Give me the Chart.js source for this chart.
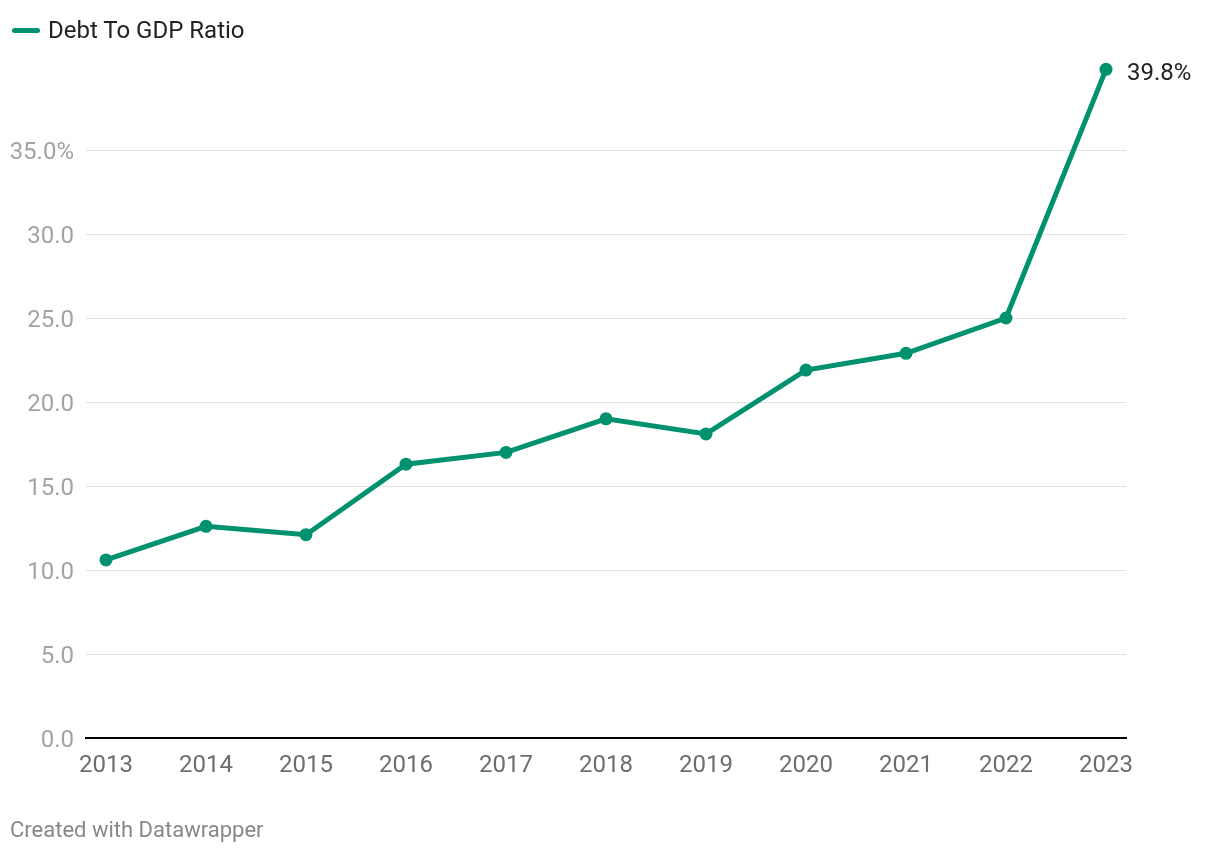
<!DOCTYPE html>
<html>
<head>
<meta charset="utf-8">
<script src="https://cdn.jsdelivr.net/npm/chart.js@4/dist/chart.umd.min.js"></script>
<style>
  html, body { margin: 0; padding: 0; background: #fff; }
  body { width: 1220px; height: 854px; position: relative; overflow: hidden; font-family: Roboto, "Noto Sans", sans-serif; }
  #wrap { position: absolute; left: 0; top: 0; width: 1220px; height: 854px; }
  #legend { position: absolute; left: 12px; top: 16px; display: flex; align-items: center; font-size: 24px; line-height: 28px; color: #222; }
  #legend .sw { width: 28px; height: 5px; border-radius: 3px; background: #00916e; margin-right: 8px; }
  #footer { position: absolute; left: 10px; top: 817px; font-size: 22px; line-height: 26px; color: #888; }
</style>
</head>
<body>
<div id="wrap"><canvas id="c" width="1220" height="854"></canvas></div>
<div id="legend"><span class="sw"></span><span>Debt To GDP Ratio</span></div>
<div id="footer">Created with Datawrapper</div>
<script>
const years = [2013, 2014, 2015, 2016, 2017, 2018, 2019, 2020, 2021, 2022, 2023];
const debtToGdp = [10.6, 12.6, 12.1, 16.3, 17.0, 19.0, 18.1, 21.9, 22.9, 25.0, 39.8];
const yTicks = [0, 5, 10, 15, 20, 25, 30, 35];
const seriesName = "Debt To GDP Ratio";
const GREEN = "#00916e";

const lastLabel = {
  id: "lastLabel",
  afterDatasetsDraw(chart) {
    const meta = chart.getDatasetMeta(0);
    const pt = meta.data[meta.data.length - 1];
    const v = debtToGdp[debtToGdp.length - 1];
    const ctx = chart.ctx;
    ctx.save();
    ctx.font = "24px Roboto";
    ctx.fillStyle = "#222";
    ctx.textAlign = "left";
    ctx.textBaseline = "middle";
    ctx.fillText(v.toFixed(1) + "%", pt.x + 21, pt.y + 5);
    ctx.restore();
  }
};

new Chart(document.getElementById("c"), {
  type: "line",
  data: {
    datasets: [{
      label: seriesName,
      data: years.map((y, i) => ({ x: y, y: debtToGdp[i] })),
      borderColor: GREEN,
      backgroundColor: GREEN,
      borderWidth: 5,
      pointRadius: 6.5,
      pointHoverRadius: 6.5,
      pointBackgroundColor: GREEN,
      pointBorderWidth: 0,
      tension: 0,
      clip: false
    }]
  },
  options: {
    responsive: false,
    animation: false,
    layout: { padding: { left: 0, right: 94, top: 66, bottom: 56 } },
    plugins: { legend: { display: false }, tooltip: { enabled: false } },
    scales: {
      x: {
        type: "linear",
        min: 2012.8,
        max: 2023.2,
        afterBuildTicks(scale) { scale.ticks = years.map(v => ({ value: v })); },
        afterFit(scale) { scale.height = 60; },
        grid: { display: false, drawTicks: false },
        border: { display: true, color: "#000", width: 2 },
        ticks: {
          padding: 14,
          color: "#6e6e6e",
          font: { family: "Roboto", size: 24 },
          callback: v => String(v),
          maxRotation: 0,
          autoSkip: false
        }
      },
      y: {
        type: "linear",
        min: 0,
        max: 40,
        afterBuildTicks(scale) { scale.ticks = yTicks.map(v => ({ value: v })); },
        afterFit(scale) { scale.width = 86; },
        grid: {
          drawTicks: false,
          color: ctx => (ctx.tick && ctx.tick.value === 0) ? "rgba(0,0,0,0)" : "#e3e3e3",
          lineWidth: 1
        },
        border: { display: false },
        ticks: {
          padding: 12,
          labelOffset: 3,
          color: "#a3a3a3",
          font: { family: "Roboto", size: 24 },
          callback: v => v === 35 ? v.toFixed(1) + "%" : v.toFixed(1)
        }
      }
    }
  },
  plugins: [lastLabel]
});
</script>
</body>
</html>
